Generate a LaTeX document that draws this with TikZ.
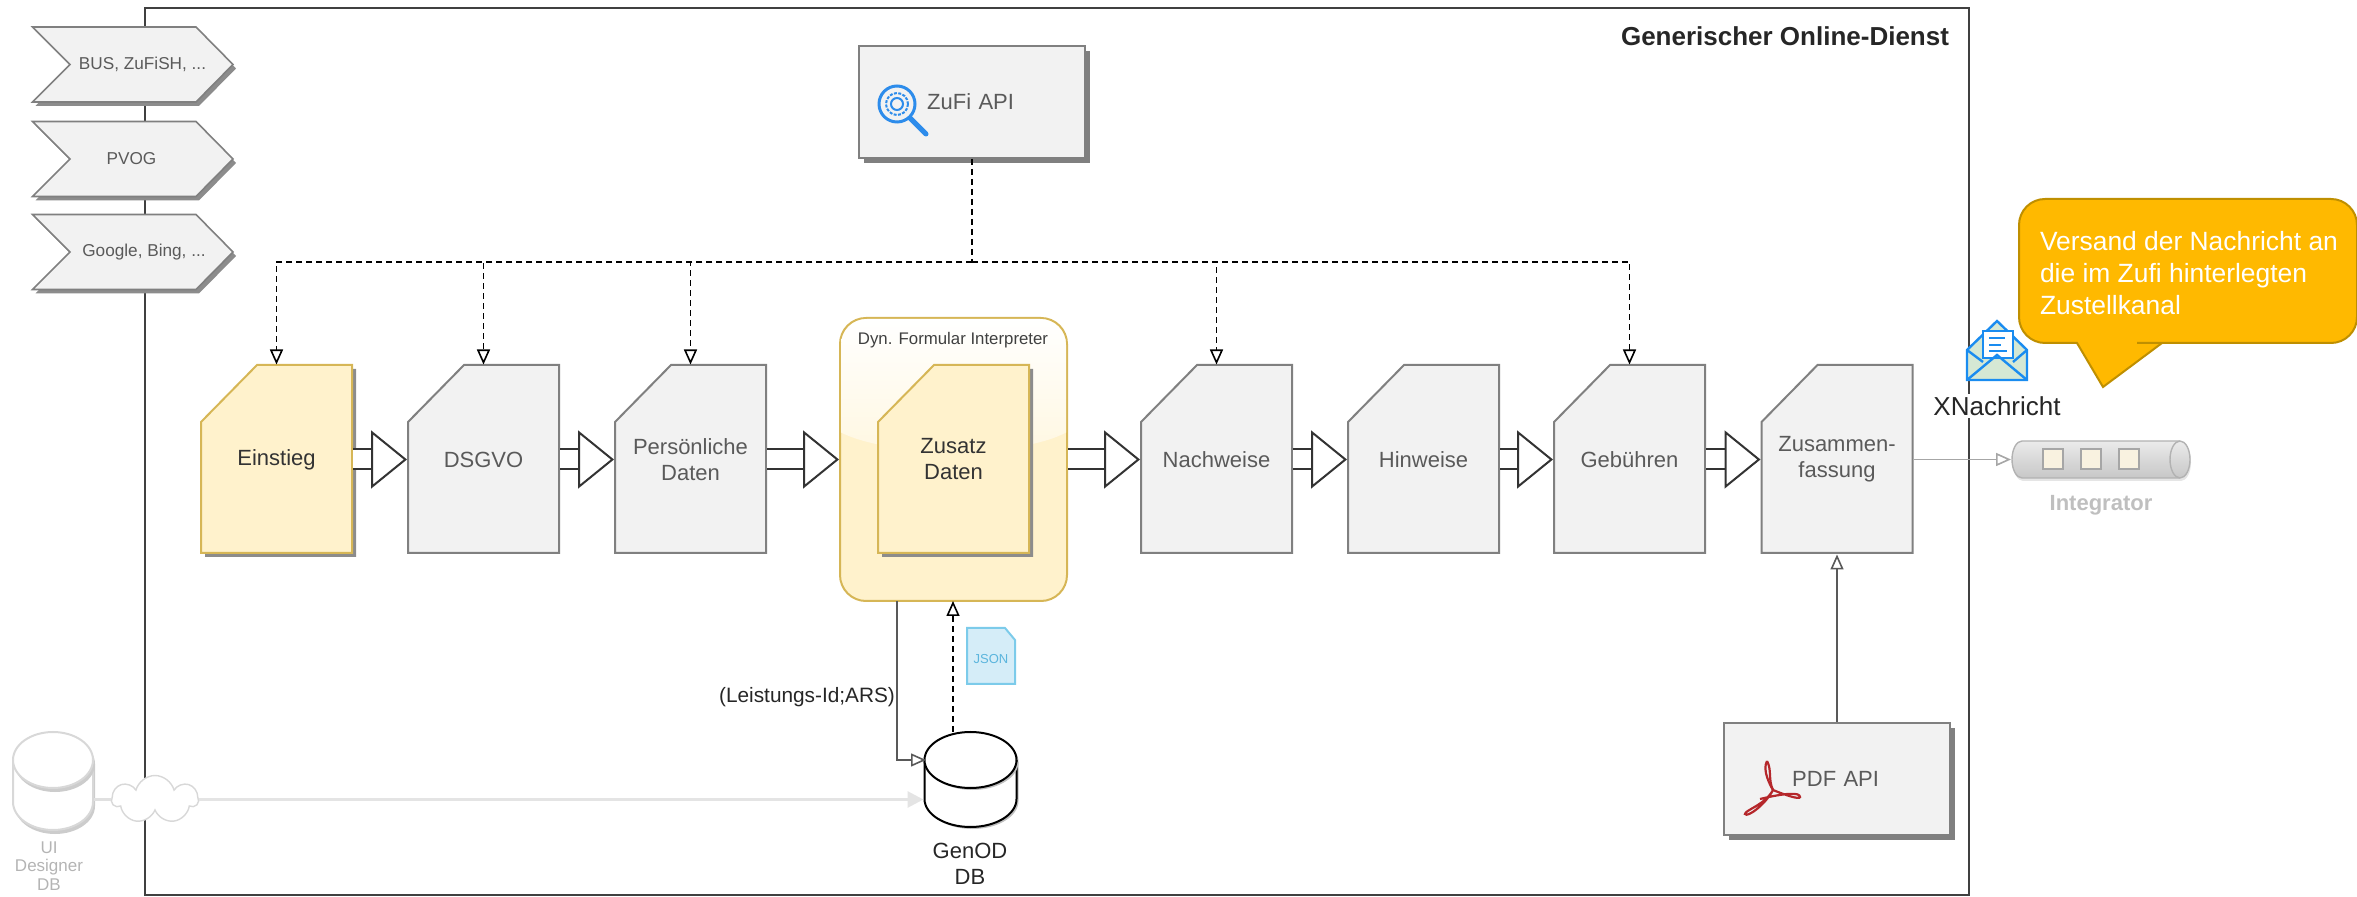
\documentclass[tikz,border=0pt]{standalone}
\usepackage{fontspec}
\setmainfont{Liberation Sans}
\usetikzlibrary{arrows.meta,shapes.symbols,shadows}
\definecolor{greyfill}{HTML}{F2F2F2}
\definecolor{greyline}{HTML}{808080}
\definecolor{greytext}{HTML}{5A5A5A}
\definecolor{yellowfill}{HTML}{FFF2CC}
\definecolor{yellowline}{HTML}{D6B656}
\definecolor{iconblue}{HTML}{2D8CEB}
\definecolor{mailblue}{HTML}{1A8CF0}
\definecolor{mailgreen}{HTML}{D5E8D4}
\definecolor{pdfred}{HTML}{B5272B}
\definecolor{jsonfill}{HTML}{D5EDF8}
\definecolor{jsonline}{HTML}{7CCBEA}
\definecolor{jsontext}{HTML}{5BB5DD}
\definecolor{noteorange}{HTML}{FFB900}
\definecolor{noteline}{HTML}{BF8F00}
\definecolor{faded}{HTML}{D8D8D8}
\definecolor{fadedtext}{HTML}{B4B4B4}
\newcommand{\docback}[2]{\draw[#1] (#2-75.5,422) -- (#2-19.5,365) -- (#2+75.5,365) -- (#2+75.5,553) -- (#2-75.5,553) -- cycle;}
\newcommand{\chevback}[1]{\draw[chevline] (32.5,#1-37.5) -- (196,#1-37.5) -- (233,#1) -- (196,#1+37.5) -- (32.5,#1+37.5) -- (70,#1) -- cycle;}
\newcommand{\tankback}[4]{\draw[#1] (#2-#3,760) -- (#2-#3,#4) arc [start angle = 180, end angle = 0, x radius = #3, y radius = 28] -- (#2+#3,760) arc [start angle = 0, end angle = -180, x radius = #3, y radius = 28] -- cycle;
    \draw[#1, drop shadow = {opacity = 0}] (#2-#3,760) arc [start angle = 180, end angle = 0, x radius = #3, y radius = 28];}
\tikzset{
  greydoc/.style = {draw = greyline, fill = greyfill},
  yellowdoc/.style = {draw = yellowline, fill = yellowfill,
    drop shadow = {shadow xshift = 2pt, shadow yshift = -2pt, fill = black!45, opacity = 1}},
  doctext/.style = {rectangle, inner sep = 0pt, minimum width = 75.5pt, minimum height = 94pt, align = center,
    font = \fontsize{11}{13}\selectfont, text = greytext},
  chevline/.style = {draw = greyline, fill = greyfill, line width = .8pt,
    drop shadow = {shadow xshift = 1.5pt, shadow yshift = -2pt, fill = black!45, opacity = 1}},
  chevtext/.style = {text = greytext, inner sep = 0pt, font = \fontsize{8.6}{10}\selectfont},
  apibox/.style = {rectangle, minimum width = 113pt, minimum height = 56pt, draw = greyline, fill = greyfill,
    text = greytext, font = \fontsize{11}{13}\selectfont, text width = 86pt, align = right, inner sep = 0pt,
    drop shadow = {shadow xshift = 2.5pt, shadow yshift = -2.5pt, fill = black!50, opacity = 1}},
  bigflow/.style = {double = white, double distance = 9pt, line width = 1pt, draw = black!80,
    -{Triangle[open, fill = white, length = 18pt, width = 29pt, line width = 1pt]}},
  openflow/.style = {line width = .7pt, -{Triangle[open, fill = white, length = 7.5pt, width = 6.5pt, line width = .8pt]}},
  dashflow/.style = {openflow, line width = .8pt, dash pattern = on 3pt off 2pt},
  tankline/.style = {draw = black, fill = white, line width = 1pt,
    drop shadow = {shadow xshift = 1pt, shadow yshift = -1pt, fill = black!25, opacity = 1}},
  fadedtank/.style = {draw = faded, fill = white, line width = 1pt,
    drop shadow = {shadow xshift = 1pt, shadow yshift = -2pt, fill = black!20, opacity = 1}},
  tankbox/.style = {rectangle, inner sep = 0pt, minimum width = 46pt, minimum height = 47.5pt},
  slot/.style = {rectangle, minimum size = 10pt, inner sep = 0pt, draw = black!35, fill = black!5!yellowfill!50!white},
}
\begin{document}
\begin{tikzpicture}[x = .5pt, y = -.5pt, line width = 1pt]
\useasboundingbox (0,0) rectangle (2357,897);
\draw[black!75] (145,8) rectangle (1969,895);
\chevback{64.5}
\chevback{159}
\chevback{252}
\draw (142.5,64.5) node[chevtext](s1){BUS, ZuFiSH, ...}
    (131.5,159) node[chevtext](s2){PVOG}
    (144,252) node[chevtext](s3){Google, Bing, ...};
\draw (1785,36) node[font = \bfseries\fontsize{13}{15}\selectfont, text = black!85](t1){Generischer Online-Dienst};
\draw (953.5,459.5) node[rectangle, rounded corners = 13pt, minimum width = 113.5pt, minimum height = 141.5pt,
    draw = yellowline, fill = yellowfill](d1){};
\begin{scope}
\clip[rounded corners = 13pt] (841,319) rectangle (1066,600);
\shade[top color = white, bottom color = yellowfill!60] (840,318) -- (1067,318) -- (1067,432) .. controls (1020,458) and (890,458) .. (840,432) -- cycle;
\end{scope}
\draw (953,340) node[font = \fontsize{8.4}{10}\selectfont, text = black!75](d2){Dyn. Formular Interpreter};
\docback{yellowdoc}{276.5}
\docback{greydoc}{483.5}
\docback{greydoc}{690.5}
\docback{yellowdoc}{953.5}
\docback{greydoc}{1216.5}
\docback{greydoc}{1423.5}
\docback{greydoc}{1629.5}
\docback{greydoc}{1837}
\draw (276.5,459.5) node[doctext, text = black!80](a1){Einstieg}
    (483.5,459.5) node[doctext](a2){DSGVO}
    (690.5,459.5) node[doctext](a3){Persönliche\\Daten}
    (953.5,459.5) node[doctext, text = black!80](a4){Zusatz\\Daten}
    (1216.5,459.5) node[doctext](a5){Nachweise}
    (1423.5,459.5) node[doctext](a6){Hinweise}
    (1629.5,459.5) node[doctext](a7){Gebühren}
    (1837,459.5) node[doctext](a8){Zusammen-\\fassung};
\draw (972,102) node[apibox](z1){ZuFi API\hspace*{22pt}}
    (1837,779) node[apibox](p1){PDF API\hspace*{22pt}};
\draw[bigflow] (a1) -- (a2);
\draw[bigflow] (a2) -- (a3);
\draw[bigflow] (a3) -- (d1);
\draw[bigflow] (d1) -- (a5);
\draw[bigflow] (a5) -- (a6);
\draw[bigflow] (a6) -- (a7);
\draw[bigflow] (a7) -- (a8);
\coordinate (b0) at (972,262);
\draw[dash pattern = on 3pt off 2pt, line width = .8pt] (z1) -- (b0);
\draw[dashflow] (b0) -| (a1.north);
\draw[dashflow] (b0) -| (a2.north);
\draw[dashflow] (b0) -| (a3.north);
\draw[dashflow] (b0) -| (a5.north);
\draw[dashflow] (b0) -| (a7.north);
\draw[openflow, draw = black!65] (p1) -- (a8);
\tankback{tankline}{970.5}{46}{799}
\tankback{fadedtank}{53}{40}{802}
\draw (970.5,779.5) node[tankbox](g1){}
    (53,781) node[tankbox, minimum width = 40pt](u1){}
    (155,799.5) node[cloud, cloud puffs = 7, aspect = 1.7, inner sep = 0pt, minimum width = 43pt, minimum height = 24pt, draw = faded, fill = white, line width = .7pt](c1){};
\draw (970,864) node[align = center, font = \fontsize{11}{13}\selectfont, text = black!85](g2){GenOD\\DB}
    (49,866) node[align = center, font = \fontsize{8.5}{9.3}\selectfont, text = fadedtext](u2){UI\\Designer\\DB}
    (807,697) node[font = \fontsize{10.4}{12}\selectfont, text = black!85](l1){(Leistungs-Id;ARS)};
\draw[faded!70, line width = 1.5pt, -{Triangle[length = 8pt, width = 8pt]}] (c1.east) -- (g1.west |- c1.east);
\draw[faded!80, line width = 1.5pt] (u1.east |- c1.west) -- (c1.west);
\coordinate (k1) at (897,601);
\coordinate (k2) at (897,760);
\coordinate (k3) at (926,760);
\coordinate (k4) at (953,732);
\coordinate (k5) at (953,601);
\draw[openflow, draw = black!65] (k1) -- (k2) -- (k3);
\draw[dashflow] (k4) -- (k5);
\draw[draw = jsonline, fill = jsonfill] (967,628) -- (1005,628) -- (1015,640) -- (1015,684) -- (967,684) -- cycle;
\draw (991,659) node[text = jsontext, font = \fontsize{6.5}{8}\selectfont, inner sep = 0pt](j1){JSON};
\draw[draw = black!30, top color = black!8, bottom color = black!22, line width = .7pt,
    drop shadow = {shadow xshift = .5pt, shadow yshift = -1.5pt, fill = black!10, opacity = 1}]
    (2180,441) -- (2022,441) arc [start angle = 270, end angle = 90, x radius = 10, y radius = 18.5]
    -- (2180,478) arc [start angle = 90, end angle = -90, x radius = 10, y radius = 18.5] -- cycle;
\draw[draw = black!30, line width = .7pt] (2180,478) arc [start angle = 90, end angle = 270, x radius = 10, y radius = 18.5];
\draw (2101,459.5) node[rectangle, inner sep = 0pt, minimum width = 89pt, minimum height = 18.5pt](i1){}
    (2053,459.5) node[slot](i2){}
    (2091,459.5) node[slot](i3){}
    (2129,459.5) node[slot](i4){}
    (2101,505) node[font = \bfseries\fontsize{11}{13}\selectfont, text = black!25](i5){Integrator};
\draw[openflow, draw = black!35] (a8) -- (i1);
\draw (1997,406) node[fill = white, inner sep = 1pt, font = \fontsize{13}{15}\selectfont, text = black!85](x1){XNachricht};
\draw[mailblue, fill = mailgreen, line width = 1.2pt] (1997,321) -- (2027,350) -- (2027,380) -- (1967,380) -- (1967,350) -- cycle;
\draw[mailblue, fill = white, line width = 1.2pt] (1983,331) rectangle (2013,358);
\draw[mailblue, line width = 1.2pt] (1967,380) -- (1997,355) -- (2027,380) (1967,350) -- (1983,362) (2027,350) -- (2013,362);
\draw[mailblue, line width = 1pt] (1989,338) -- (2005,338) (1989,345) -- (2001,345) (1989,351) -- (2007,351);
\draw[noteline, fill = noteorange, line width = 1pt] (2103,387) -- (2077,343) -- (2076,343) [rounded corners = 13pt] -- (2019,343) -- (2019,199) -- (2357,199) -- (2357,343) -- (2163,343) [sharp corners] -- (2162,343) -- cycle;
\draw (2039,273) node[anchor = west, inner sep = 0pt, align = left, text = white, font = \fontsize{13.2}{16}\selectfont](n1){Versand der Nachricht an\\die im Zufi hinterlegten\\Zustellkanal};
\draw[iconblue, line width = 1.5pt] (897,104) circle [radius = 18];
\draw[iconblue, line width = 1pt, dash pattern = on 1.5pt off .7pt] (897,104) circle [radius = 11];
\draw[iconblue, line width = 1pt] (897,104) circle [radius = 6];
\draw[iconblue, line width = 2.5pt, line cap = round] (910,118) -- (926,134);
\draw[pdfred, line width = 1.1pt] (1767,761) .. controls (1762,770) and (1770,785) .. (1773,790) .. controls (1765,805) and (1745,810) .. (1745,814) .. controls (1747,818) and (1765,805) .. (1773,790) .. controls (1785,795) and (1800,800) .. (1800,797) .. controls (1800,792) and (1785,793) .. (1760,799);
\draw[pdfred, line width = 1.1pt] (1767,761) .. controls (1772,770) and (1768,780) .. (1773,790);
\end{tikzpicture}
\end{document}
